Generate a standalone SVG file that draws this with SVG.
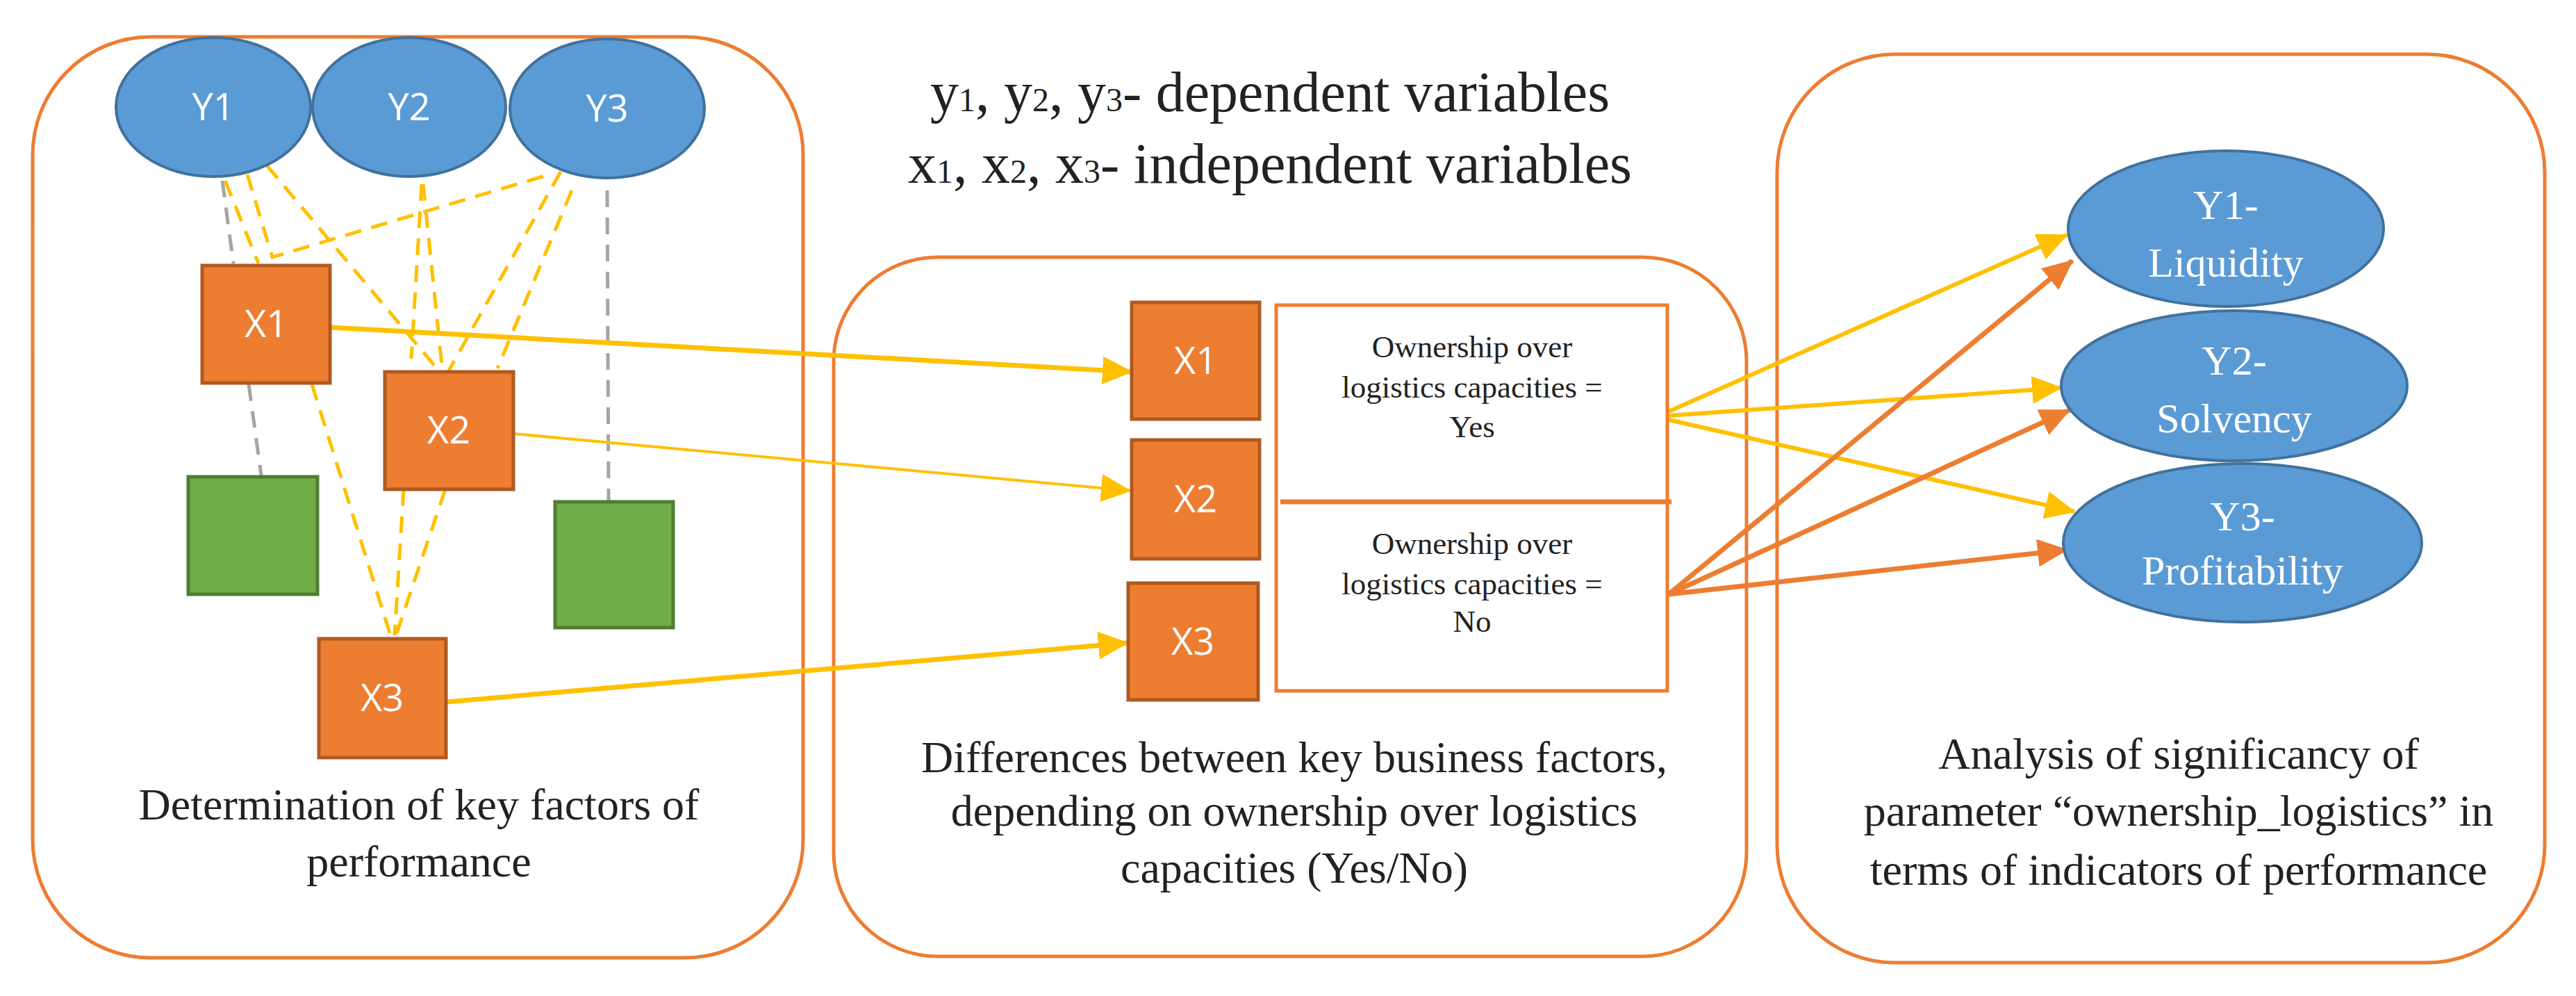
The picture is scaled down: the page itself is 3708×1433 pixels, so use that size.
<svg xmlns="http://www.w3.org/2000/svg" width="3708" height="1433" viewBox="0 0 3708 1433">
<style>
.panel{fill:#fff;stroke:#ED7D31;stroke-width:5}
.ell{fill:#5B9BD5;stroke:#41719C;stroke-width:4}
.xb{fill:#ED7D31;stroke:#AE5A21;stroke-width:5}
.gb{fill:#70AD47;stroke:#507E32;stroke-width:5}
.wt{fill:#fff;font-family:"Open Sans","Liberation Sans",sans-serif;font-size:54px;text-anchor:middle}
.ws{fill:#fff;font-family:"Liberation Serif",serif;font-size:60px;text-anchor:middle}
.cap{fill:#222;font-family:"Liberation Serif",serif;font-size:64px;text-anchor:middle}
.sm{fill:#222;font-family:"Liberation Serif",serif;font-size:45px;text-anchor:middle}
.hd{fill:#222;font-family:"Liberation Serif",serif;font-size:82px;text-anchor:middle}
.yd{stroke:#FFC000;stroke-width:5;stroke-dasharray:24 15;fill:none}
.gd{stroke:#A5A5A5;stroke-width:5;stroke-dasharray:24 15;fill:none}
.ys{stroke:#FFC000;fill:none}
.os{stroke:#ED7D31;stroke-width:7;fill:none}
</style>
<defs>
<marker id="ay" markerUnits="userSpaceOnUse" markerWidth="44" markerHeight="44" refX="42" refY="20" orient="auto" viewBox="0 0 44 40"><path d="M0,0 L44,20 L0,40 Z" fill="#FFC000"/></marker>
<marker id="ao" markerUnits="userSpaceOnUse" markerWidth="44" markerHeight="44" refX="42" refY="20" orient="auto" viewBox="0 0 44 40"><path d="M0,0 L44,20 L0,40 Z" fill="#ED7D31"/></marker>
</defs>
<g id="panel-left"><rect class="panel" x="47" y="53" width="1109" height="1325" rx="170"/>
<text class="cap" x="603" y="1179">Determination of key factors of</text>
<text class="cap" x="603" y="1261">performance</text></g>
<g id="panel-middle"><rect class="panel" x="1200" y="370" width="1314" height="1006" rx="150"/>
<text class="cap" x="1863" y="1111">Differences between key business factors,</text>
<text class="cap" x="1863" y="1188">depending on ownership over logistics</text>
<text class="cap" x="1863" y="1270">capacities (Yes/No)</text></g>
<g id="panel-right"><rect class="panel" x="2558" y="78" width="1105" height="1307" rx="170"/>
<text class="cap" x="3136" y="1106">Analysis of significancy of</text>
<text class="cap" x="3136" y="1188">parameter “ownership_logistics” in</text>
<text class="cap" x="3136" y="1273">terms of indicators of performance</text></g>
<g id="legend">
<text class="hd" x="1828" y="160">y<tspan font-size="48">1</tspan>, y<tspan font-size="48">2</tspan>, y<tspan font-size="48">3</tspan>- dependent variables</text>
<text class="hd" x="1828" y="263">x<tspan font-size="48">1</tspan>, x<tspan font-size="48">2</tspan>, x<tspan font-size="48">3</tspan>- independent variables</text>
</g>
<g id="connectors">
<line class="gd" x1="320" y1="260" x2="336" y2="379"/>
<line class="gd" x1="358" y1="553" x2="376" y2="684"/>
<line class="gd" x1="874" y1="274" x2="876" y2="722"/>
<line class="yd" x1="324" y1="260" x2="372" y2="379"/>
<polyline class="yd" points="356,251 392,370 791,251"/>
<line class="yd" x1="384" y1="238" x2="633" y2="535"/>
<line class="yd" x1="607" y1="265" x2="592" y2="516"/>
<line class="yd" x1="609" y1="265" x2="637" y2="535"/>
<line class="yd" x1="807" y1="247" x2="645" y2="535"/>
<line class="yd" x1="823" y1="274" x2="716" y2="530"/>
<line class="yd" x1="449" y1="553" x2="562" y2="914"/>
<line class="yd" x1="581" y1="704" x2="568" y2="914"/>
<line class="yd" x1="641" y1="704" x2="570" y2="914"/>
<line class="ys" stroke-width="7" x1="475" y1="471" x2="1629" y2="535" marker-end="url(#ay)"/>
<line class="ys" stroke-width="4" x1="739" y1="624" x2="1627" y2="706" marker-end="url(#ay)"/>
<line class="ys" stroke-width="7" x1="642" y1="1010" x2="1623" y2="925" marker-end="url(#ay)"/>
<line class="ys" stroke-width="6" x1="2402" y1="592" x2="2975" y2="338" marker-end="url(#ay)"/>
<line class="ys" stroke-width="6" x1="2402" y1="598" x2="2967" y2="558" marker-end="url(#ay)"/>
<line class="ys" stroke-width="6" x1="2402" y1="604" x2="2986" y2="736" marker-end="url(#ay)"/>
<line class="os" x1="2402" y1="855" x2="2983" y2="375" marker-end="url(#ao)"/>
<line class="os" x1="2402" y1="855" x2="2979" y2="590" marker-end="url(#ao)"/>
<line class="os" x1="2402" y1="855" x2="2975" y2="791" marker-end="url(#ao)"/>
</g>
<g id="y1"><ellipse class="ell" cx="307" cy="154" rx="140" ry="100"/><text class="wt" x="307" y="173">Y1</text></g>
<g id="y2"><ellipse class="ell" cx="589" cy="154" rx="139" ry="100"/><text class="wt" x="589" y="173">Y2</text></g>
<g id="y3"><ellipse class="ell" cx="874" cy="156" rx="140" ry="100"/><text class="wt" x="874" y="175">Y3</text></g>
<g id="x1"><rect class="xb" x="291" y="382" width="184" height="169"/><text class="wt" x="383" y="485">X1</text></g>
<g id="x2"><rect class="xb" x="554" y="535" width="185" height="169"/><text class="wt" x="646" y="638">X2</text></g>
<g id="x3"><rect class="xb" x="459" y="919" width="183" height="171"/><text class="wt" x="550" y="1023">X3</text></g>
<g id="g1"><rect class="gb" x="271" y="686" width="186" height="169"/></g>
<g id="g2"><rect class="gb" x="799" y="722" width="170" height="181"/></g>
<g id="mx1"><rect class="xb" x="1629" y="435" width="184" height="168"/><text class="wt" x="1721" y="538">X1</text></g>
<g id="mx2"><rect class="xb" x="1629" y="633" width="184" height="171"/><text class="wt" x="1721" y="737">X2</text></g>
<g id="mx3"><rect class="xb" x="1624" y="839" width="187" height="168"/><text class="wt" x="1717" y="942">X3</text></g>
<g id="ownership"><rect x="1837" y="439" width="563" height="555" fill="#fff" stroke="#ED7D31" stroke-width="5"/>
<line x1="1843" y1="722" x2="2406" y2="722" stroke="#ED7D31" stroke-width="7"/>
<text class="sm" x="2119" y="514">Ownership over</text><text class="sm" x="2119" y="572">logistics capacities =</text><text class="sm" x="2119" y="629">Yes</text>
<text class="sm" x="2119" y="797">Ownership over</text><text class="sm" x="2119" y="855">logistics capacities =</text><text class="sm" x="2119" y="909">No</text></g>
<g id="ry1"><ellipse class="ell" cx="3204" cy="329" rx="227" ry="112"/><text class="ws" x="3204" y="315">Y1-</text><text class="ws" x="3204" y="398">Liquidity</text></g>
<g id="ry2"><ellipse class="ell" cx="3216" cy="555" rx="249" ry="108"/><text class="ws" x="3216" y="539">Y2-</text><text class="ws" x="3216" y="622">Solvency</text></g>
<g id="ry3"><ellipse class="ell" cx="3228" cy="781" rx="258" ry="114"/><text class="ws" x="3228" y="763">Y3-</text><text class="ws" x="3228" y="841">Profitability</text></g>
</svg>
